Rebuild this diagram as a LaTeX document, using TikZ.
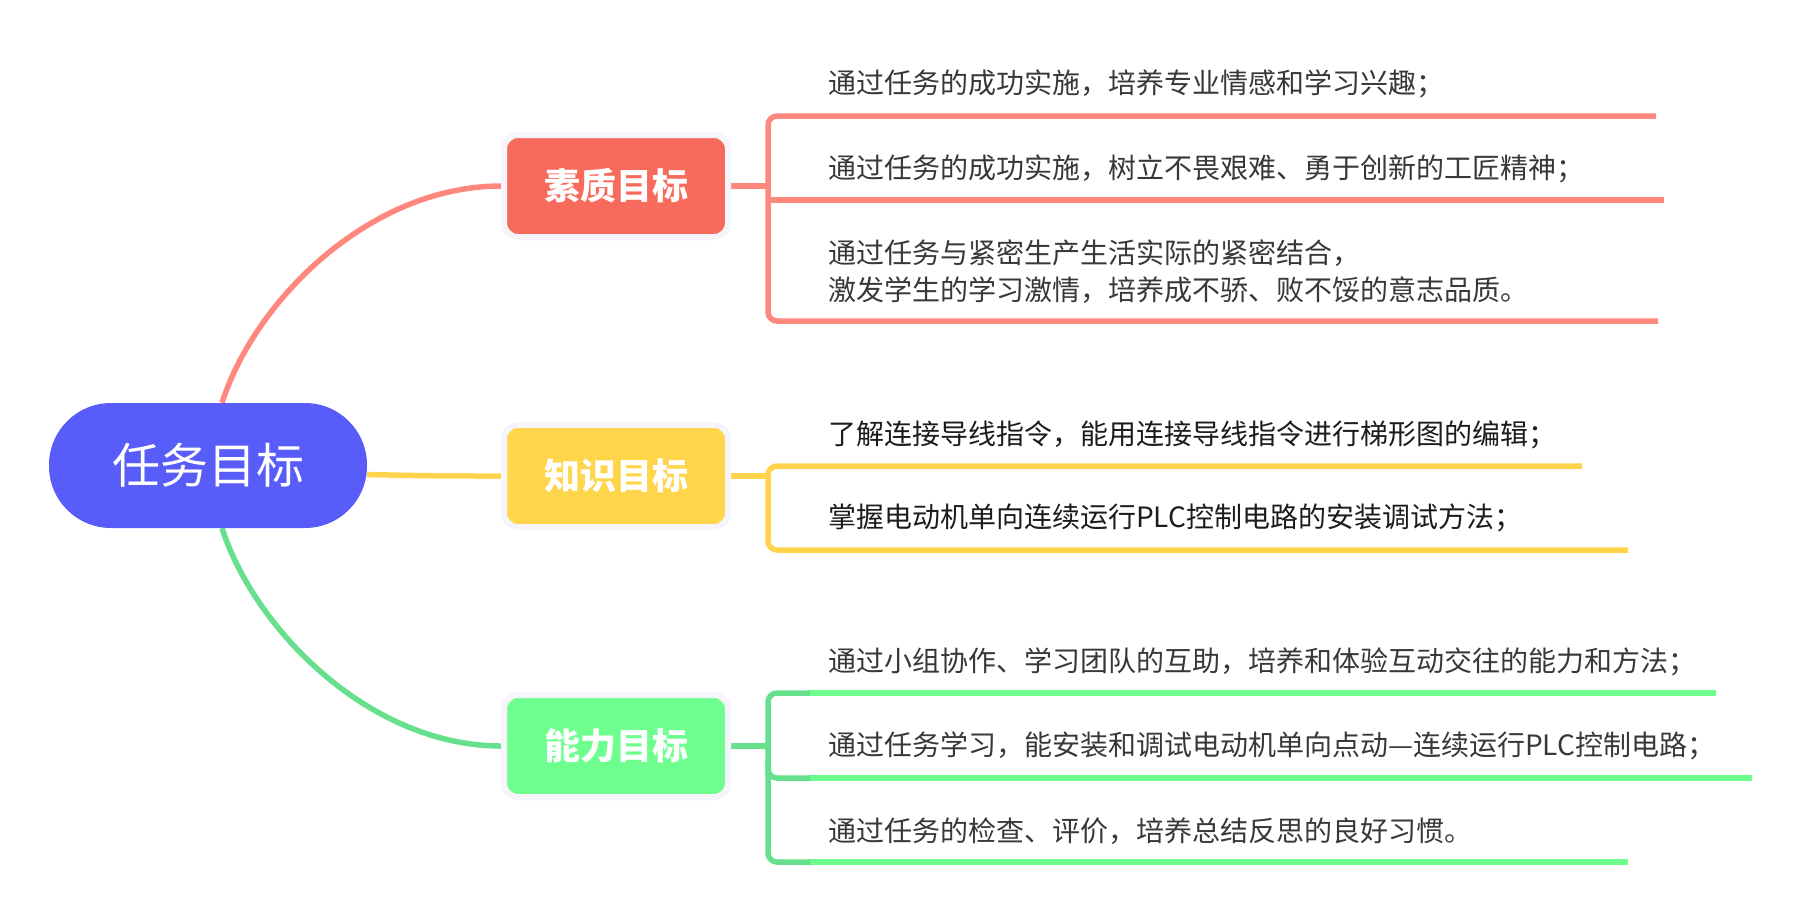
\documentclass[tikz,border=0pt]{standalone}
\usepackage{fontspec}
\setmainfont{Noto Sans CJK SC}
\usetikzlibrary{calc}
\definecolor{rootc}{RGB}{88,92,248}
\definecolor{redbox}{RGB}{247,107,93}
\definecolor{redln}{RGB}{255,136,126}
\definecolor{yelbox}{RGB}{255,213,76}
\definecolor{yelln}{RGB}{255,212,76}
\definecolor{grnbox}{RGB}{110,255,142}
\definecolor{grnln}{RGB}{108,255,140}
\definecolor{grndk}{RGB}{102,224,140}
\definecolor{halo}{RGB}{246,245,252}
\definecolor{txtgray}{RGB}{56,56,56}
\definecolor{txtdark}{RGB}{28,28,28}
\pgfdeclarelayer{back}
\pgfdeclarelayer{bg}
\pgfsetlayers{back,bg,main}
\tikzset{
  rootnode/.style={fill=rootc, text=white, rounded corners=62pt, minimum width=318pt, minimum height=125pt, inner sep=0pt, font=\fontsize{48}{56}\selectfont},
  goalbox/.style={draw=halo, line width=6pt, rounded corners=14pt, minimum width=224pt, minimum height=102pt, inner sep=0pt, text=white, font=\fontsize{36}{42}\selectfont\bfseries},
  itemtext/.style={anchor=west, inner sep=0pt, align=left, font=\fontsize{28}{37}\selectfont},
  conn/.style={line width=5.5pt},
  uline/.style={line width=5.5pt},
}
\begin{document}
\begin{tikzpicture}[x=1pt,y=-1pt]
\begin{pgfonlayer}{back}
\fill[white] (0,0) rectangle (1804,914);
\end{pgfonlayer}
\useasboundingbox (0,0) rectangle (1804,914);
% nodes
\node[rootnode] (root) at (208,465.5) {任务目标};
\node[goalbox, fill=redbox] (sz) at (616,186) {素质目标};
\node[goalbox, fill=yelbox] (zs) at (616,476) {知识目标};
\node[goalbox, fill=grnbox] (nl) at (616,746) {能力目标};
% texts
\node[itemtext, text=txtgray] (r1) at (828,84) {通过任务的成功实施，培养专业情感和学习兴趣；};
\node[itemtext, text=txtgray] (r2) at (828,169) {通过任务的成功实施，树立不畏艰难、勇于创新的工匠精神；};
\node[itemtext, text=txtgray] (r3) at (828,271.5) {通过任务与紧密生产生活实际的紧密结合，\\激发学生的学习激情，培养成不骄、败不馁的意志品质。};
\node[itemtext, text=txtdark] (y1) at (828,435) {了解连接导线指令，能用连接导线指令进行梯形图的编辑；};
\node[itemtext, text=txtdark] (y2) at (828,518) {掌握电动机单向连续运行PLC控制电路的安装调试方法；};
\node[itemtext, text=txtgray] (g1) at (828,662) {通过小组协作、学习团队的互助，培养和体验互动交往的能力和方法；};
\node[itemtext, text=txtgray] (g2) at (828,746) {通过任务学习，能安装和调试电动机单向点动—连续运行PLC控制电路；};
\node[itemtext, text=txtgray] (g3) at (828,831) {通过任务的检查、评价，培养总结反思的良好习惯。};
% bracket coordinates
\coordinate (rb) at (768,186);
\coordinate (yb) at (768,476);
\coordinate (gb) at (768,746);
\coordinate (r1e) at (1656,116);
\coordinate (r2e) at (1664,200);
\coordinate (r3e) at (1658,321);
\coordinate (y1e) at (1582,466);
\coordinate (y2e) at (1628,550);
\coordinate (g1e) at (1716,693);
\coordinate (g2e) at (1752,778);
\coordinate (g3e) at (1628,862);
\begin{pgfonlayer}{bg}
% root connectors
\draw[conn, redln] ([xshift=14pt]root.north) .. controls (255,300) and (370,186) .. (sz.west);
\draw[conn, yelln] ([yshift=-9pt]root.east) .. controls (430,476) and (450,476) .. (zs.west);
\draw[conn, grndk] ([xshift=14pt]root.south) .. controls (255,630) and (370,746) .. (nl.west);
% red bracket
\draw[conn, redln] (sz.east) -- (rb);
\draw[uline, redln, rounded corners=9pt] (r1e) -- (r1e -| rb) -- (r3e -| rb) -- (r3e);
\draw[uline, redln] (r2e -| rb) -- (r2e);
% yellow bracket
\draw[conn, yelln] (zs.east) -- (yb);
\draw[uline, yelln, rounded corners=9pt] (y1e) -- (y1e -| yb) -- (y2e -| yb) -- (y2e);
% green bracket
\draw[conn, grndk] (nl.east) -- (gb);
\draw[uline, grnln] (808,693) -- (g1e);
\draw[uline, grnln] (808,778) -- (g2e);
\draw[uline, grnln] (808,862) -- (g3e);
\draw[uline, grndk, rounded corners=9pt] (810,693) -- (g1e -| gb) -- (g2e -| gb) -- (810,778);
\draw[uline, grndk, rounded corners=9pt] (768,760) -- (g3e -| gb) -- (810,862);
\end{pgfonlayer}
\end{tikzpicture}
\end{document}
